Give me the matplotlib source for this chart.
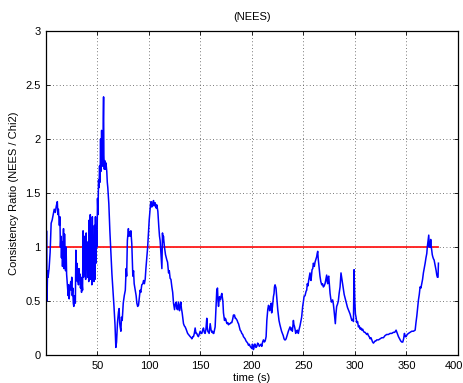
import numpy as np
import matplotlib
matplotlib.use("Agg")
import matplotlib.pyplot as plt
from matplotlib.transforms import ScaledTranslation

plt.rcParams['font.family'] = ['Liberation Sans', 'DejaVu Sans']
plt.rcParams['font.size'] = 8

# consistency ratio (NEES / Chi2) as (time s, ratio) samples, split by stretch of the run
run_start = [
    (0.0, 0.45), (0.5, 1.15), (1, 0.5), (1.5, 0.78), (2, 0.72), (3, 0.8), (4, 0.95), (5, 1.22),
    (6, 1.25), (7, 1.3), (8, 1.35), (9, 1.32), (10, 1.38), (11, 1.42), (11.5, 1.3), (12, 1.35),
    (13, 1.2), (13.5, 1.28), (14, 1.0), (14.5, 1.1), (15, 0.9), (15.5, 1.05), (16, 0.82),
    (16.5, 0.98), (17, 1.17), (17.5, 0.8), (18, 1.12), (18.5, 0.9), (19, 0.78), (19.5, 1.0),
    (20, 0.75), (21, 0.62), (21.5, 0.55), (22, 0.65), (22.5, 0.52), (23, 0.6), (24, 0.68),
    (24.5, 0.6), (25, 0.72), (25.5, 0.55), (26, 0.62), (26.5, 0.48), (27, 0.45), (27.5, 0.55),
    (28, 0.5), (28.5, 0.48), (29, 0.97), (29.5, 0.7), (30, 0.85), (30.5, 0.68), (31, 0.78),
    (31.5, 0.65), (32, 0.8), (32.5, 0.7), (33, 0.75), (33.5, 0.62), (34, 0.72), (34.5, 0.58),
    (35, 0.66), (35.5, 0.6), (36, 1.15), (36.5, 0.72), (37, 1.1), (37.5, 0.75), (38, 0.98),
    (38.5, 0.7), (39, 1.13), (39.5, 0.8), (40, 0.95), (40.5, 0.72), (41, 1.05), (41.5, 0.68),
    (42, 1.25), (42.5, 0.8), (43, 1.3), (43.5, 0.7), (44, 1.1), (44.5, 0.65), (45, 1.28),
    (45.5, 0.75), (46, 1.05), (46.5, 0.68), (47, 1.2), (47.5, 0.7), (48, 1.28), (48.5, 0.85),
    (49, 1.15), (49.5, 1.0),
]
first_peak = [
    (50, 1.45), (50.5, 1.3), (51, 1.62), (51.5, 1.55), (52, 1.75), (52.5, 1.6), (53, 2.0),
    (53.3, 1.7), (53.7, 1.85), (54, 2.08), (54.4, 1.75), (54.8, 2.0), (55.2, 1.75), (55.6, 2.2),
    (55.9, 2.39), (56.2, 1.85), (56.6, 1.72), (57, 1.8), (57.5, 1.72), (58, 1.78), (58.5, 1.75),
    (59, 1.7), (59.5, 1.6), (60, 1.55), (61, 1.4), (62, 1.15), (63, 0.95), (64, 0.75), (65, 0.6),
    (66, 0.45), (67, 0.28), (67.8, 0.07), (68.5, 0.12), (69.4, 0.3), (70.4, 0.4), (71, 0.43),
    (71.5, 0.3), (72, 0.26), (72.7, 0.22), (73.3, 0.35), (74, 0.32), (75, 0.48), (76, 0.55),
    (77, 0.6), (77.8, 0.8), (78.3, 0.73), (79, 1.06), (80, 1.17), (80.5, 1.1), (81, 1.14),
    (82, 1.1), (82.4, 1.15), (83.3, 1.03), (84.3, 0.73), (85, 0.78), (85.6, 0.66), (86.6, 0.6),
    (87.5, 0.55), (88.2, 0.48), (89, 0.45), (89.8, 0.46), (90.5, 0.52), (91.4, 0.6), (92, 0.58),
    (93, 0.65), (94, 0.66), (94.7, 0.69), (95.5, 0.66), (96.3, 0.7), (97, 0.8), (97.9, 0.91),
    (98.7, 1.0), (99.5, 1.13), (100.2, 1.25), (101, 1.34), (101.5, 1.4), (102, 1.42),
    (102.7, 1.37), (103.4, 1.4), (104.4, 1.43), (105, 1.38), (106, 1.41), (107, 1.36),
    (107.6, 1.39), (108.6, 1.33), (109.5, 1.19), (110.2, 1.1), (110.8, 1.06), (111.3, 0.98),
    (111.8, 0.91), (112.5, 0.8), (113.1, 1.13), (113.6, 1.05), (114, 1.1), (115, 1.0),
    (116, 0.93), (117.3, 0.88), (118, 0.86), (119, 0.76), (119.7, 0.78), (120.5, 0.71),
    (121.3, 0.7), (122.2, 0.63), (123, 0.58),
]
middle = [
    (123.8, 0.48), (124.8, 0.42), (125.5, 0.47), (126.4, 0.49), (127, 0.43), (127.7, 0.42),
    (128.6, 0.49), (129.6, 0.41), (130.3, 0.46), (130.9, 0.49), (131.5, 0.43), (132.2, 0.39),
    (133.5, 0.29), (134.3, 0.27), (135.1, 0.26), (136, 0.24), (136.7, 0.22), (137.5, 0.2),
    (138.3, 0.19), (139, 0.18), (140, 0.17), (141, 0.16), (141.6, 0.15), (142.5, 0.17),
    (143.2, 0.17), (144, 0.2), (144.8, 0.25), (145.6, 0.2), (146.4, 0.2), (147.2, 0.18),
    (148, 0.17), (149, 0.2), (149.7, 0.22), (150.5, 0.2), (151.3, 0.2), (152.1, 0.23),
    (152.9, 0.25), (153.7, 0.21), (154.5, 0.2), (155.3, 0.24), (156.1, 0.34), (156.6, 0.25),
    (157.1, 0.22), (158.4, 0.2), (159.4, 0.29), (160.3, 0.23), (161, 0.21), (161.6, 0.22),
    (162.3, 0.2), (162.9, 0.2), (163.6, 0.23), (164.2, 0.26), (165.2, 0.48), (165.8, 0.6),
    (166.5, 0.62), (167, 0.5), (167.5, 0.45), (168.4, 0.54), (169.4, 0.51), (170.1, 0.55),
    (170.7, 0.57), (171.7, 0.5), (172.3, 0.39), (173.3, 0.32), (174, 0.34), (174.6, 0.33),
    (175.3, 0.3), (175.9, 0.29), (176.5, 0.3), (177.2, 0.28), (178, 0.29), (178.8, 0.29),
    (179.6, 0.3), (180.4, 0.3), (181.2, 0.33), (182, 0.37), (182.5, 0.36), (183, 0.37),
    (183.7, 0.34), (184.3, 0.34), (185, 0.33), (185.6, 0.32), (186.3, 0.3), (186.9, 0.29),
    (187.7, 0.26), (188.5, 0.23), (189.3, 0.22), (190.1, 0.2), (191, 0.19), (191.7, 0.17),
    (192.5, 0.16), (193.3, 0.15), (194.2, 0.13), (195, 0.12), (195.8, 0.11), (196.6, 0.09),
    (197.4, 0.1), (198.2, 0.08), (199, 0.07), (199.8, 0.06), (200.3, 0.1), (200.8, 0.09),
    (201.3, 0.05), (201.8, 0.06), (202.4, 0.1), (203, 0.1), (203.8, 0.07), (204.7, 0.08),
    (205.5, 0.11), (206.3, 0.1), (207.1, 0.08), (207.9, 0.09), (208.7, 0.1), (209.5, 0.08),
    (210.3, 0.12), (211.1, 0.14), (212, 0.12), (212.8, 0.13), (213.7, 0.17), (214.4, 0.32),
    (215.3, 0.42), (216, 0.46), (216.6, 0.45), (217.1, 0.41), (217.6, 0.43), (218.6, 0.48),
    (219.1, 0.39), (219.9, 0.45), (220.8, 0.54), (221.4, 0.57), (221.8, 0.63), (222.4, 0.65),
    (223.3, 0.62), (224, 0.54), (225, 0.42), (226.2, 0.32), (227.1, 0.28), (227.9, 0.25),
    (228.7, 0.22), (229.5, 0.2), (230.3, 0.18), (231.1, 0.15), (231.8, 0.14), (232.4, 0.14),
    (233.1, 0.15), (233.7, 0.17), (234.5, 0.2), (235.3, 0.22), (236.1, 0.24), (236.9, 0.26),
    (237.9, 0.23), (238.5, 0.25), (239.2, 0.22), (240.2, 0.32), (240.7, 0.28), (241.1, 0.27),
    (241.8, 0.24), (242.4, 0.2), (243.2, 0.22), (244, 0.23), (244.5, 0.21), (245, 0.2),
    (245.8, 0.24), (246.6, 0.27), (247.4, 0.31), (248.2, 0.35), (249.2, 0.45),
]
late_hills = [
    (250, 0.5), (250.5, 0.54), (251.5, 0.55), (252.5, 0.59), (253.1, 0.6), (253.7, 0.66),
    (254.3, 0.64), (255, 0.69), (255.6, 0.72), (256.3, 0.76), (256.8, 0.7), (257.3, 0.69),
    (257.8, 0.74), (258.3, 0.79), (259, 0.8), (259.6, 0.85), (260.5, 0.82), (261.2, 0.86),
    (261.8, 0.88), (262.8, 0.91), (263.3, 0.94), (263.8, 0.96), (264.2, 0.9), (264.7, 0.85),
    (265.3, 0.78), (266, 0.73), (266.8, 0.68), (267.7, 0.65), (268.5, 0.66), (269.3, 0.63),
    (270.1, 0.64), (270.9, 0.66), (271.7, 0.7), (272.5, 0.74), (273, 0.68), (273.5, 0.66),
    (274, 0.72), (274.5, 0.73), (275.2, 0.65), (275.8, 0.57), (276.5, 0.52), (277.1, 0.49),
    (277.7, 0.5), (278.3, 0.51), (279, 0.47), (279.6, 0.42), (280.2, 0.36), (280.9, 0.29),
    (281.5, 0.38), (282.2, 0.45), (283, 0.47), (283.8, 0.5), (284.6, 0.57), (285.5, 0.63),
    (286, 0.7), (286.4, 0.76), (287, 0.72), (287.4, 0.7), (288, 0.65), (288.7, 0.6),
    (289.5, 0.56), (290.3, 0.53), (291.1, 0.5), (291.9, 0.47), (292.7, 0.44), (293.5, 0.42),
    (294.3, 0.4), (295.2, 0.38), (296, 0.35), (296.9, 0.32), (297.7, 0.33), (298.5, 0.31),
    (299.1, 0.79), (299.5, 0.6), (299.8, 0.5), (300.4, 0.38), (301, 0.35), (301.7, 0.3),
    (302.5, 0.31), (303.3, 0.26), (304.1, 0.27), (305, 0.24), (305.8, 0.25), (306.6, 0.23),
    (307.4, 0.24), (308.2, 0.22), (309, 0.21), (309.8, 0.21), (310.6, 0.2), (311.4, 0.19),
    (312.2, 0.2), (313, 0.18), (313.8, 0.17), (314.7, 0.15), (315.5, 0.16), (316.3, 0.14),
    (317.1, 0.12), (317.9, 0.11), (318.7, 0.12), (319.5, 0.13), (320.3, 0.13), (321.1, 0.14),
    (322.8, 0.14), (324.4, 0.15), (326, 0.16), (327.6, 0.16), (329.2, 0.18), (330.8, 0.19),
    (332.4, 0.19), (334.1, 0.2), (335.7, 0.2), (337.3, 0.21), (338.6, 0.21), (339.9, 0.23),
    (341, 0.2), (342.2, 0.17), (343.3, 0.15), (344.4, 0.13), (345.4, 0.12), (346.4, 0.12),
    (347.2, 0.15), (348, 0.2), (348.8, 0.17), (349.6, 0.17), (350.7, 0.19), (351.9, 0.2),
    (353.5, 0.21), (355.1, 0.22), (356.7, 0.22), (358.4, 0.23),
]
final_rise = [
    (359.2, 0.3), (360, 0.36), (360.8, 0.44), (361.6, 0.51), (362.4, 0.56), (363.2, 0.63),
    (364, 0.62), (364.8, 0.66), (365.6, 0.7), (366.4, 0.76), (367.2, 0.8), (368.1, 0.85),
    (368.9, 0.9), (369.7, 0.94), (370.2, 1.0), (370.6, 1.03), (371.1, 1.07), (371.6, 1.11),
    (372.1, 1.0), (372.6, 1.03), (373, 1.0), (373.5, 1.07), (374, 1.0), (374.5, 0.97), (375, 0.93),
    (375.5, 0.91), (376.2, 0.89), (376.8, 0.88), (377.4, 0.85), (378.1, 0.82), (378.8, 0.78),
    (379.4, 0.74), (380, 0.72), (380.6, 0.72), (381, 0.85),
]

# reference level: ratio of 1
ref_t = [0, 380.9]
ref_v = [1, 1]

xticks = [50, 100, 150, 200, 250, 300, 350, 400]
yticks = [0, 0.5, 1, 1.5, 2, 2.5, 3]
ytick_labels = ['0', '0.5', '1', '1.5', '2', '2.5', '3']

samples = np.array(run_start + first_peak + middle + late_hills + final_rise)

fig = plt.figure(figsize=(4.64, 3.83), dpi=100)
ax = fig.add_axes([46 / 464, 28 / 383, 412 / 464, 324 / 383])

ax.plot(ref_t, ref_v, color='#ff1a1a', lw=1.3)
ax.plot(samples[:, 0], samples[:, 1], color='#0000ff', lw=1.1)

ax.set_xlim(0, 400)
ax.set_ylim(0, 3)
ax.set_xticks(xticks)
ax.set_yticks(yticks)
ax.set_yticklabels(ytick_labels)
ax.grid(True, color='0.3', linestyle=(0, (1, 3)), linewidth=0.6)
ax.tick_params(direction='in', top=True, right=True, length=3, width=0.6, pad=4)
for s in ax.spines.values():
    s.set_linewidth(0.9)

# keep the last x label inside the figure
last = ax.xaxis.get_major_ticks()[-1].label1
last.set_transform(last.get_transform() + ScaledTranslation(-4 / 100, 0, fig.dpi_scale_trans))

ax.set_title('(NEES)', fontsize=8, pad=8)
ax.set_xlabel('time (s)')
ax.set_ylabel('Consistency Ratio (NEES / Chi2)')
ax.xaxis.set_label_coords(0.5, -0.056)
ax.yaxis.set_label_coords(-0.066, 0.5)

fig.savefig('out.png', dpi=100)
